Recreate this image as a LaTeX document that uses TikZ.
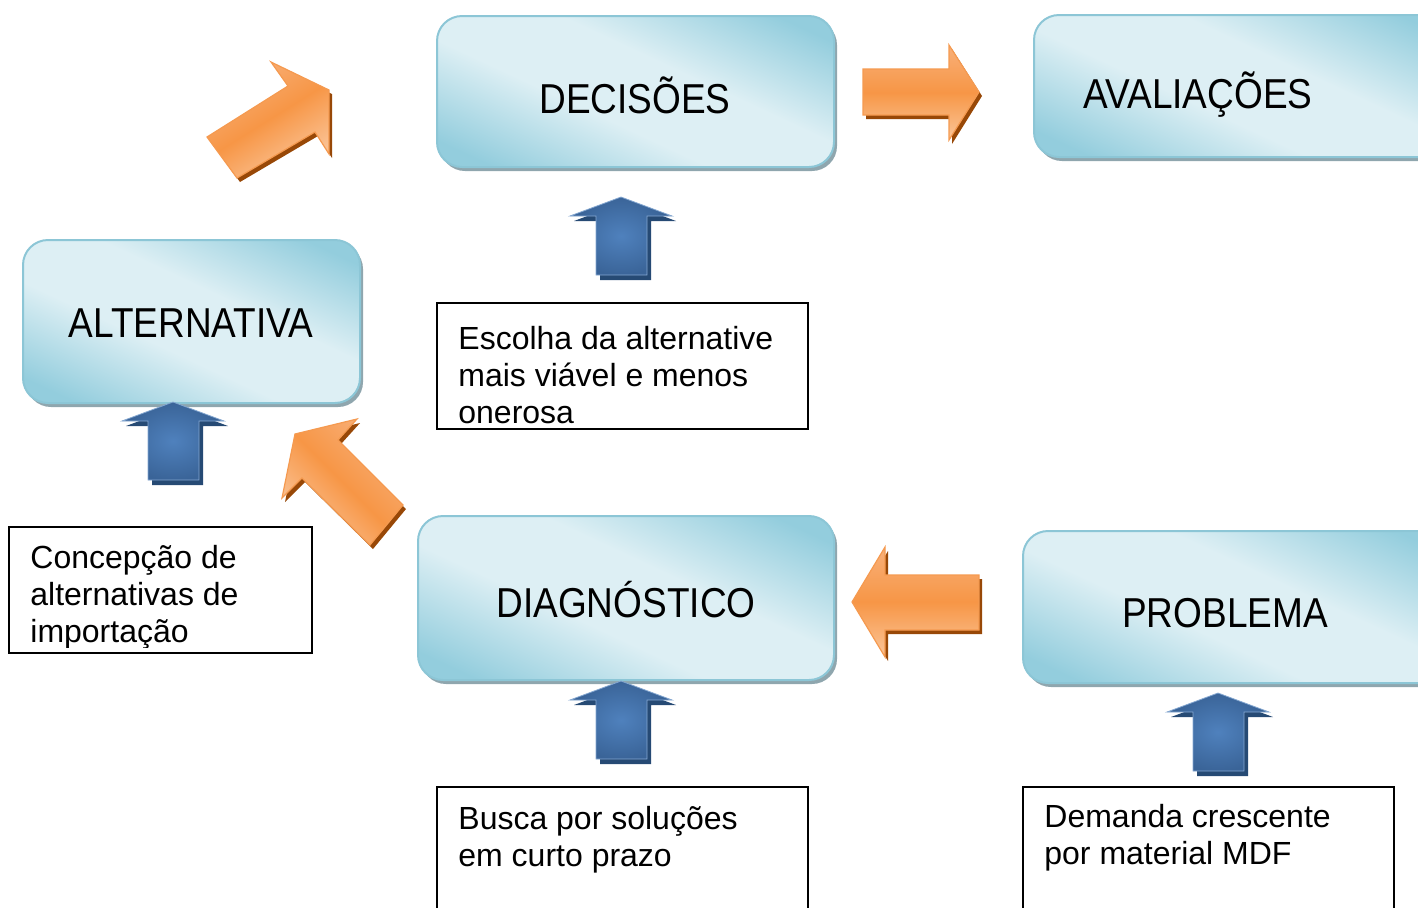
\documentclass[tikz,border=0pt]{standalone}
\usepackage{fontspec}
\setmainfont{Liberation Sans}
\definecolor{boxdark}{HTML}{93CDDD}
\definecolor{boxlight}{HTML}{DDEFF4}
\definecolor{boxedge}{HTML}{8CC6D6}
\definecolor{boxshadow}{HTML}{8FA6AE}
\definecolor{ormid}{HTML}{F79646}
\definecolor{ortop}{HTML}{F8AD73}
\definecolor{orbot}{HTML}{FAC090}
\definecolor{oredge}{HTML}{F59A50}
\definecolor{orshadow}{HTML}{984807}
\definecolor{blmid}{HTML}{4F81BD}
\definecolor{blout}{HTML}{3A6498}
\definecolor{blshadow}{HTML}{264A74}
\pgfdeclarehorizontalshading{boxshade}{100bp}{color(0bp)=(boxdark); color(22bp)=(boxdark); color(42bp)=(boxlight); color(58bp)=(boxlight); color(78bp)=(boxdark); color(100bp)=(boxdark)}
\pgfdeclareverticalshading{orshade}{100bp}{color(0bp)=(orbot); color(28bp)=(orbot); color(50bp)=(ormid); color(72bp)=(ortop); color(100bp)=(ortop)}
\tikzset{
  bluebox/.style={draw=boxedge, line width=1pt, rounded corners=12.5pt, shading=boxshade, shading angle=65},
  bluesh/.style={fill=boxshadow, rounded corners=12.5pt},
  boxlabel/.style={inner sep=0pt, anchor=base, font=\fontsize{18.5}{22}\selectfont},
  txt/.style={inner sep=0pt, anchor=base west, font=\fontsize{16}{18.5}\selectfont},
  txtbox/.style={draw=black, line width=1pt},
  orarrow/.style={draw=oredge, line width=0.6pt, shading=orshade},
  orsh/.style={fill=orshadow},
  blarrow/.style={draw=blmid!70!white, line width=0.4pt, inner color=blmid, outer color=blout},
  blsh/.style={fill=blshadow},
}
\newcommand\upblock{(0,0) -- (51,19) -- (26,19) -- (26,78) -- (-25,78) -- (-25,19) -- (-51,19) -- cycle}
\newcommand\tall[1]{\scalebox{1}[1.13]{#1}}
\begin{document}
\begin{tikzpicture}[x=0.5pt,y=-0.5pt]
\useasboundingbox (0,0) rectangle (1418,907);
\clip (0,0) rectangle (1418,907);

% ---- rounded gradient boxes ----
\fill[bluesh] (440,20) rectangle (837,171);
\path[bluebox] (437,16) rectangle (834,167);
\node[boxlabel] (dec) at (635,113) {\tall{DECISÕES}};

\fill[bluesh] (1037,19) rectangle (1460,161);
\path[bluebox] (1034,15) rectangle (1457,157);
\node[boxlabel] (ava) at (1198,108) {\tall{AVALIAÇÕES}};

\fill[bluesh] (26,244) rectangle (363,407);
\path[bluebox] (23,240) rectangle (360,403);
\node[boxlabel] (alt) at (191,337) {\tall{ALTERNATIVA}};

\fill[bluesh] (421,520) rectangle (837,684);
\path[bluebox] (418,516) rectangle (834,680);
\node[boxlabel] (dia) at (626,617) {\tall{DIAGNÓSTICO}};

\fill[bluesh] (1026,535) rectangle (1460,687);
\path[bluebox] (1023,531) rectangle (1457,683);
\node[boxlabel] (pro) at (1225,627) {\tall{PROBLEMA}};

% ---- text boxes ----
\node[txt] (esc1) at (458,349) {Escolha da alternative};
\node[txt] (esc2) at (458,386) {mais viável e menos};
\node[txt] (esc3) at (458,423) {onerosa};
\draw[txtbox] (437,303) rectangle (808,429);

\begin{scope}
\clip (9,527) rectangle (312,647);
\node[txt] (con1) at (30,568) {Concepção de};
\node[txt] (con2) at (30,605) {alternativas de};
\node[txt] (con3) at (30,642) {importação};
\end{scope}
\draw[txtbox] (9,527) rectangle (312,653);

\node[txt] (bus1) at (458,829) {Busca por soluções};
\node[txt] (bus2) at (458,866) {em curto prazo};
\draw[txtbox] (437,787) rectangle (808,920);

\node[txt] (dem1) at (1044,827) {Demanda crescente};
\node[txt] (dem2) at (1044,864) {por material MDF};
\draw[txtbox] (1023,787) rectangle (1394,920);

% ---- blue up arrows ----
\foreach \tx/\ty in {621/197, 173/402, 621/681, 1218/693}{
  \begin{scope}[shift={(\tx,\ty)}]
    \fill[blsh, shift={(4,5)}] \upblock;
    \path[blarrow] \upblock;
  \end{scope}
}

% ---- orange block arrows ----
\newcommand\arR{(863,69) -- (949,69) -- (949,45) -- (979,92) -- (949,140) -- (949,115) -- (863,115) -- cycle}
\newcommand\arL{(979,575) -- (885,575) -- (885,547) -- (852,602) -- (885,657) -- (885,630) -- (979,630) -- cycle}
\newcommand\arUR{(207,137) -- (288,86) -- (271,62) -- (329,90) -- (329,154) -- (315,132) -- (237,178) -- cycle}
\newcommand\arUL{(295,434) -- (357,419) -- (338,440) -- (403,505) -- (370,545) -- (302,478) -- (282,498) -- cycle}

\fill[orsh, shift={(3,4)}] \arR;
\path[orarrow] \arR;
\fill[orsh, shift={(3,4)}] \arL;
\path[orarrow] \arL;
\fill[orsh, shift={(3,4)}] \arUR;
\path[orarrow, shading angle=32] \arUR;
\fill[orsh, shift={(3,4)}] \arUL;
\path[orarrow, shading angle=-45] \arUL;
\end{tikzpicture}
\end{document}
